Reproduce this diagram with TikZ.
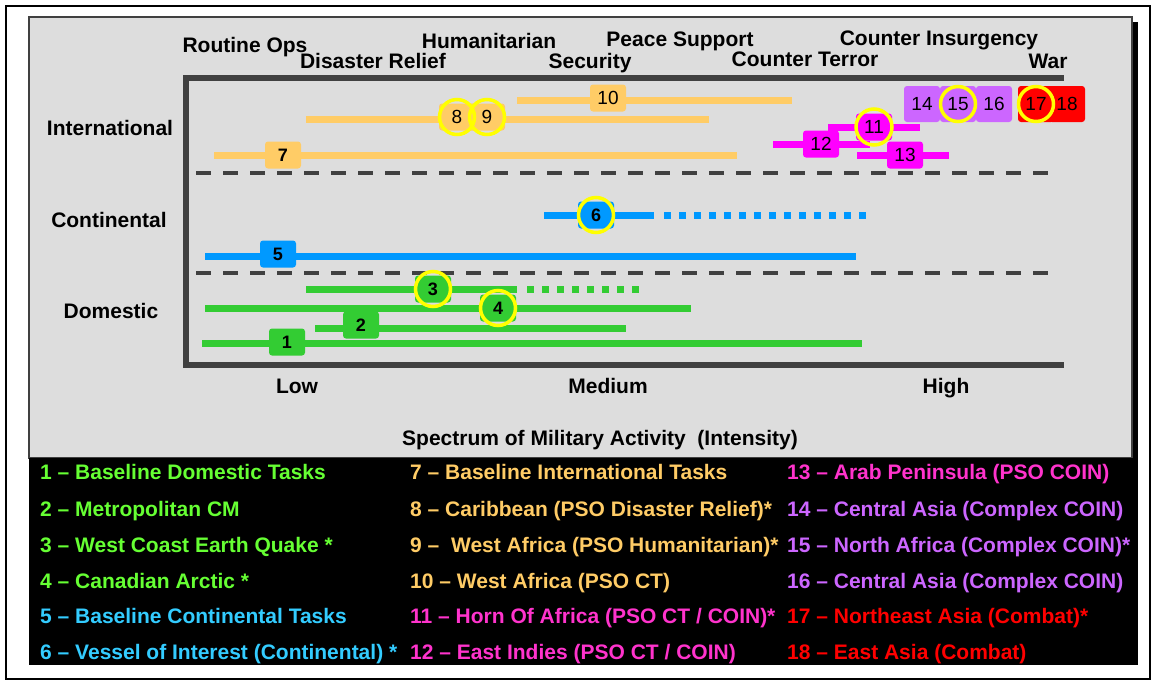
\documentclass[tikz,border=0pt]{standalone}
\usepackage{fontspec}
\setmainfont{Liberation Sans}
\definecolor{panelgray}{HTML}{DDDDDD}
\definecolor{axisgray}{HTML}{404040}
\definecolor{orangec}{HTML}{FFCC66}
\definecolor{greenc}{HTML}{33CC33}
\definecolor{bluec}{HTML}{0099FF}
\definecolor{magc}{HTML}{FF00FF}
\definecolor{purc}{HTML}{CC66FF}
\definecolor{redc}{HTML}{FF0000}
\definecolor{ringc}{HTML}{FFFF00}
\definecolor{lgreen}{HTML}{66FF33}
\definecolor{lblue}{HTML}{33CCFF}
\definecolor{lmag}{HTML}{FF33CC}
\begin{document}
\begin{tikzpicture}[x=1pt,y=-1pt,
  hdr/.style={font=\fontsize{21}{21}\selectfont\bfseries, inner sep=0, anchor=base},
  spec/.style={font=\fontsize{21}{21}\selectfont\bfseries, inner sep=0, anchor=base},
  leg/.style={font=\fontsize{21}{21}\selectfont\bfseries, inner sep=0, anchor=base west},
  bar/.style={line width=7pt},
  dotbar/.style={line width=7pt, dash pattern=on 7pt off 8pt},
  sep/.style={line width=4pt, draw=axisgray, dash pattern=on 15pt off 12pt},
  mk/.style={rounded corners=3pt, minimum width=36pt, minimum height=27pt, inner sep=0,
    font=\fontsize{19}{19}\selectfont},
  mkb/.style={mk, font=\fontsize{18}{18}\selectfont\bfseries},
  mkt/.style={mk, minimum height=36pt},
  ring/.style={draw=ringc, line width=3.5pt, circle, minimum size=35pt, inner sep=0},
]
% page and outer frame
\fill[white] (0,0) rectangle (1151,681);
\useasboundingbox (0,0) rectangle (1151,681);
\draw[line width=1.6pt] (6,6) rectangle (1150,679);

% shadow, chart panel and legend panel
\fill[black] (35,22) rectangle (1138,665);
\filldraw[fill=panelgray, draw=axisgray, line width=1.2pt] (29,17) rectangle (1132,458);
\fill[black] (29,458) rectangle (1138,665);

% activity headings
\node[hdr] (hRoutine) at (245,52) {Routine Ops};
\node[hdr] (hDisaster) at (373,68) {Disaster Relief};
\node[hdr] (hHuman) at (489,48) {Humanitarian};
\node[hdr] (hSecurity) at (590,68) {Security};
\node[hdr] (hPeace) at (680,46) {Peace Support};
\node[hdr] (hTerror) at (805,66) {Counter Terror};
\node[hdr] (hCoin) at (939,45) {Counter Insurgency};
\node[hdr] (hWar) at (1048,68) {War};

% scope labels
\node[hdr] (rInt) at (110,135) {International};
\node[hdr] (rCont) at (109,227) {Continental};
\node[hdr] (rDom) at (111,318) {Domestic};

% intensity labels
\node[hdr] (xLow) at (297,393) {Low};
\node[hdr] (xMed) at (608,393) {Medium};
\node[hdr] (xHigh) at (946,393) {High};
\node[spec] (xTitle) at (600,445) {Spectrum of Military Activity\ \ (Intensity)};

% separators between scopes
\draw[sep] (196,173) -- (1057,173);
\draw[sep] (196,273) -- (1057,273);

% axes
\draw[line width=6pt, axisgray] (1064,78) -- (186,78) -- (186,365) -- (1064,365);

% international bars
\draw[bar, orangec] (517,100) -- (792,100);
\draw[bar, orangec] (306,119) -- (709,119);
\draw[bar, orangec] (214,155) -- (737,155);
\draw[bar, magc] (828,127) -- (920,127);
\draw[bar, magc] (773,144) -- (870,144);
\draw[bar, magc] (857,155) -- (949,155);

% continental bars
\draw[bar, bluec] (544,215) -- (654,215);
\draw[dotbar, bluec] (664,215) -- (866,215);
\draw[bar, bluec] (205,256) -- (856,256);

% domestic bars
\draw[bar, greenc] (306,289) -- (517,289);
\draw[dotbar, greenc] (527,289) -- (644,289);
\draw[bar, greenc] (205,308) -- (691,308);
\draw[bar, greenc] (315,328) -- (626,328);
\draw[bar, greenc] (202,343) -- (862,343);

% task markers
\node[mkb, fill=greenc] (m1) at (287,342) {1};
\node[mkb, fill=greenc] (m2) at (361,325) {2};
\node[mkb, fill=greenc] (m3) at (433,289) {3};
\node[mkb, fill=greenc] (m4) at (498,308) {4};
\node[mkb, fill=bluec] (m5) at (278,254) {5};
\node[mkb, fill=bluec] (m6) at (596,215) {6};
\node[mkb, fill=orangec] (m7) at (283,155) {7};
\node[mk, fill=orangec] (m8) at (457,117) {8};
\node[mk, fill=orangec] (m9) at (487,117) {9};
\node[mk, fill=orangec] (m10) at (608,98) {10};
\node[mk, fill=magc] (m11) at (874,127) {11};
\node[mk, fill=magc] (m12) at (821,144) {12};
\node[mk, fill=magc] (m13) at (905,155) {13};
\node[mkt, fill=purc] (m14) at (922,104) {14};
\node[mkt, fill=purc] (m15) at (958,104) {15};
\node[mkt, fill=purc] (m16) at (994,104) {16};
\node[mkt, fill=redc] (m18) at (1067,104) {18};
\node[mkt, fill=redc] (m17) at (1036,104) {17};

% rings on the starred tasks
\node[ring] (r3) at (m3) {};
\node[ring] (r4) at (m4) {};
\node[ring] (r6) at (m6) {};
\node[ring] (r8) at (m8) {};
\node[ring] (r9) at (m9) {};
\node[ring, minimum size=36pt] (r11) at (m11) {};
\node[ring] (r15) at (m15) {};
\node[ring] (r17) at (m17) {};

% legend
\node[leg, lgreen] (l1) at (40,479) {1 – Baseline Domestic Tasks};
\node[leg, lgreen] (l2) at (40,516) {2 – Metropolitan CM};
\node[leg, lgreen] (l3) at (40,552) {3 – West Coast Earth Quake *};
\node[leg, lgreen] (l4) at (40,588) {4 – Canadian Arctic *};
\node[leg, lblue] (l5) at (40,623) {5 – Baseline Continental Tasks};
\node[leg, lblue] (l6) at (40,659) {6 – Vessel of Interest (Continental) *};
\node[leg, orangec] (l7) at (410,479) {7 – Baseline International Tasks};
\node[leg, orangec] (l8) at (410,516) {8 – Caribbean (PSO Disaster Relief)*};
\node[leg, orangec] (l9) at (410,552) {9 –\ \ West Africa (PSO Humanitarian)*};
\node[leg, orangec] (l10) at (410,588) {10 – West Africa (PSO CT)};
\node[leg, lmag] (l11) at (410,623) {11 – Horn Of Africa (PSO CT / COIN)*};
\node[leg, lmag] (l12) at (410,659) {12 – East Indies (PSO CT / COIN)};
\node[leg, lmag] (l13) at (787,479) {13 – Arab Peninsula (PSO COIN)};
\node[leg, purc] (l14) at (787,516) {14 – Central Asia (Complex COIN)};
\node[leg, purc] (l15) at (787,552) {15 – North Africa (Complex COIN)*};
\node[leg, purc] (l16) at (787,588) {16 – Central Asia (Complex COIN)};
\node[leg, redc] (l17) at (787,623) {17 – Northeast Asia (Combat)*};
\node[leg, redc] (l18) at (787,659) {18 – East Asia (Combat)};
\end{tikzpicture}
\end{document}
